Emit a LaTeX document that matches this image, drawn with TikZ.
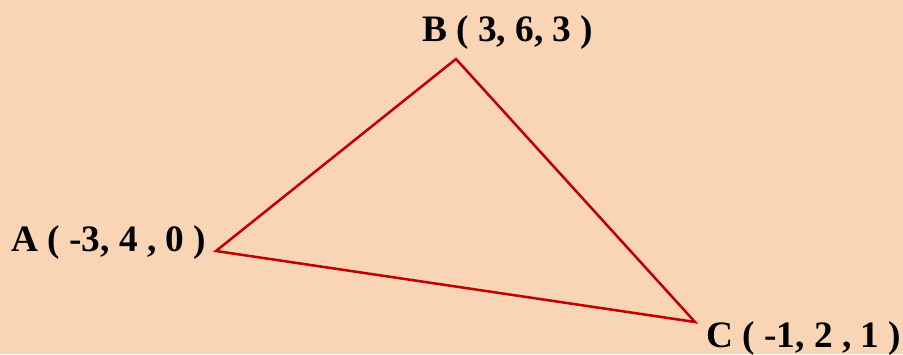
\documentclass[tikz,border=0pt]{standalone}
\usepackage{fontspec}
\setmainfont{Liberation Serif}
\usetikzlibrary{positioning}
\definecolor{peach}{HTML}{F9D5B5}
\definecolor{edgered}{HTML}{C00000}

\begin{document}
\begin{tikzpicture}[
        x=0.75pt, y=0.75pt,
        edge/.style={draw=edgered, line width=1.9pt, line join=miter},
        vlabel/.style={inner sep=0pt, font=\fontsize{28}{32}\selectfont\bfseries}
    ]
        % Background
        \fill[peach] (0,0) rectangle (903,354);
        \useasboundingbox (0,0) rectangle (903,354);

        % Vertices
        \coordinate (A) at (216,103);
        \coordinate (B) at (456,295);
        \coordinate (C) at (695,32);

        % Labels
        \node (labA) [vlabel, anchor=base west] at (11,103) {A ( -3, 4 , 0 )};
        \node (labB) [vlabel, anchor=base west] at (422,312) {B ( 3, 6, 3 )};
        \node (labC) [vlabel, anchor=base west] at (706,7) {C ( -1, 2 , 1 )};

        % Triangle
        \draw [edge] (A) -- (B) -- (C) -- cycle;
\end{tikzpicture}
\end{document}
